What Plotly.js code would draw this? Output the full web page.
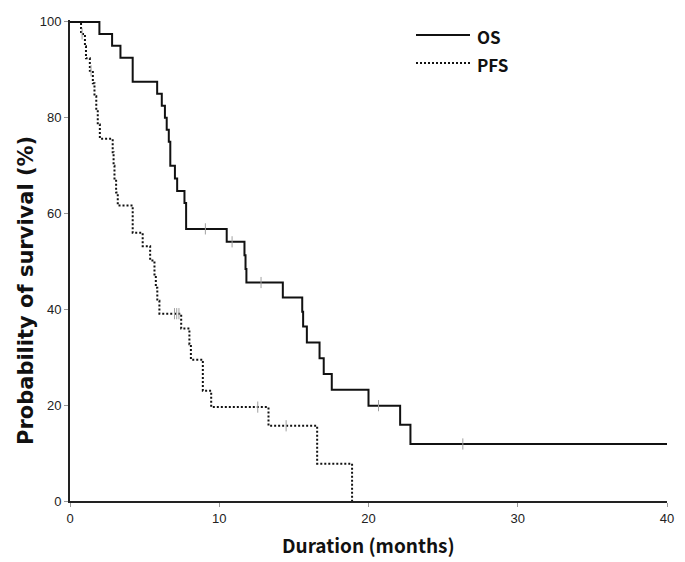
<!DOCTYPE html>
<html>
<head>
<meta charset="utf-8">
<script src="https://cdn.plot.ly/plotly-3.0.1.min.js"></script>
<style>
html,body{margin:0;padding:0;background:#ffffff;}
#chart{width:685px;height:562px;}
</style>
</head>
<body>
<div id="chart"></div>
<script>
// ---- Data (months, % surviving) ----
const osMonths = [0, 1.97, 2.82, 3.38, 4.20, 5.84, 6.15, 6.36, 6.48, 6.62, 6.72, 7.03, 7.18, 7.67, 7.78, 10.50, 11.69, 11.76, 11.82, 14.26, 15.56, 15.62, 15.87, 16.72, 17.00, 17.54, 20.00, 22.12, 22.81, 40];
const osSurvival = [100, 97.5, 95.0, 92.5, 87.5, 85.0, 82.5, 80.0, 77.5, 75.0, 70.0, 67.3, 64.7, 62.2, 56.8, 54.1, 51.3, 48.4, 45.6, 42.5, 39.5, 36.4, 33.1, 29.8, 26.5, 23.2, 19.9, 15.9, 11.9, 11.9];
const osCensored = [9.07, 10.86, 12.80, 20.67, 26.32];

const pfsMonths = [0, 0.74, 1.00, 1.07, 1.33, 1.53, 1.64, 1.76, 1.86, 2.00, 2.86, 2.92, 2.98, 3.09, 3.20, 4.20, 4.87, 5.37, 5.66, 5.75, 5.85, 5.99, 7.45, 8.00, 8.10, 8.90, 9.46, 13.30, 16.56, 18.90];
const pfsSurvival = [100, 97.5, 94.9, 92.4, 89.8, 87.2, 84.5, 81.6, 78.6, 75.6, 72.8, 70.0, 67.1, 64.4, 61.7, 56.0, 53.2, 50.2, 47.3, 44.5, 41.8, 39.1, 36.0, 32.7, 29.5, 23.0, 19.6, 15.7, 7.8, 0];
const pfsCensored = [0.81, 1.41, 7.00, 7.15, 7.30, 12.58, 14.48];

const xTicks = [0, 10, 20, 30, 40];
const yTicks = [0, 20, 40, 60, 80, 100];
const seriesNames = ["OS", "PFS"];
const xTitle = "Duration (months)";
const yTitle = "Probability of survival (%)";

// step-function level at time t (for placing censor marks on the curve)
function levelAt(ts, ss, t) {
  let v = ss[0];
  for (let i = 0; i < ts.length; i++) { if (ts[i] <= t) v = ss[i]; }
  return v;
}

const boldFamily = "Noto Sans CJK KR, Noto Sans, sans-serif";
const tickFont = {family: "Liberation Sans, Arial, sans-serif", size: 13, color: "#222"};
const censorMarker = {symbol: "line-ns-open", size: 8, color: "#a0a0a0", line: {color: "#a0a0a0", width: 1}};

const traces = [
  {x: osMonths, y: osSurvival, type: "scatter", mode: "lines", name: seriesNames[0],
   line: {shape: "hv", color: "#111", width: 2}, hoverinfo: "skip"},
  {x: pfsMonths, y: pfsSurvival, type: "scatter", mode: "lines", name: seriesNames[1],
   line: {shape: "hv", color: "#111", width: 2, dash: "2px,2px"}, hoverinfo: "skip"},
  {x: osCensored, y: osCensored.map(t => levelAt(osMonths, osSurvival, t)), type: "scatter", mode: "markers",
   marker: censorMarker, cliponaxis: false, hoverinfo: "skip"},
  {x: pfsCensored, y: pfsCensored.map(t => levelAt(pfsMonths, pfsSurvival, t)), type: "scatter", mode: "markers",
   marker: censorMarker, cliponaxis: false, hoverinfo: "skip"}
];

const W = 685, H = 562, mL = 70, mR = 18, mT = 20, mB = 61;
const pw = W - mL - mR, ph = H - mT - mB;
const px = v => (v - mL) / pw;          // pixel -> paper x
const py = v => (H - mB - v) / ph;      // pixel -> paper y

const layout = {
  width: W, height: H,
  margin: {l: mL, r: mR, t: mT, b: mB, pad: 0},
  paper_bgcolor: "#ffffff", plot_bgcolor: "#ffffff",
  showlegend: false,
  xaxis: {range: [0, 40], tickvals: xTicks, ticktext: xTicks.map(String), ticks: "outside", ticklen: 4, tickwidth: 1,
          tickcolor: "#999", showline: true, linecolor: "#222", linewidth: 2, showgrid: false, zeroline: false,
          tickfont: tickFont, fixedrange: true},
  yaxis: {range: [0, 100.4], tickvals: yTicks, ticktext: yTicks.map(String), ticks: "outside", ticklen: 4, tickwidth: 1,
          tickcolor: "#999", showline: true, linecolor: "#222", linewidth: 2, showgrid: false, zeroline: false,
          tickfont: tickFont, fixedrange: true},
  shapes: [
    {type: "line", xref: "paper", yref: "paper", x0: px(416), x1: px(470), y0: py(35), y1: py(35),
     line: {color: "#111", width: 2}},
    {type: "line", xref: "paper", yref: "paper", x0: px(416), x1: px(470), y0: py(63), y1: py(63),
     line: {color: "#111", width: 2, dash: "2px,2px"}}
  ],
  annotations: [
    {text: seriesNames[0], xref: "paper", yref: "paper", x: px(475), y: py(36), xanchor: "left", yanchor: "middle",
     showarrow: false, font: {family: boldFamily, size: 17, color: "#111", weight: 700}},
    {text: seriesNames[1], xref: "paper", yref: "paper", x: px(475), y: py(64), xanchor: "left", yanchor: "middle",
     showarrow: false, font: {family: boldFamily, size: 17, color: "#111", weight: 700}},
    {text: xTitle, xref: "paper", yref: "paper", x: 0.5, y: py(544), xanchor: "center", yanchor: "middle",
     showarrow: false, font: {family: boldFamily, size: 19, color: "#111", weight: 700}},
    {text: yTitle, xref: "paper", yref: "paper", x: px(26), y: py(291), xanchor: "center", yanchor: "middle",
     textangle: -90, showarrow: false, font: {family: "DejaVu Sans, sans-serif", size: 21, color: "#111", weight: 700}}
  ]
};

Plotly.newPlot("chart", traces, layout, {displayModeBar: false, staticPlot: true});
</script>
</body>
</html>
